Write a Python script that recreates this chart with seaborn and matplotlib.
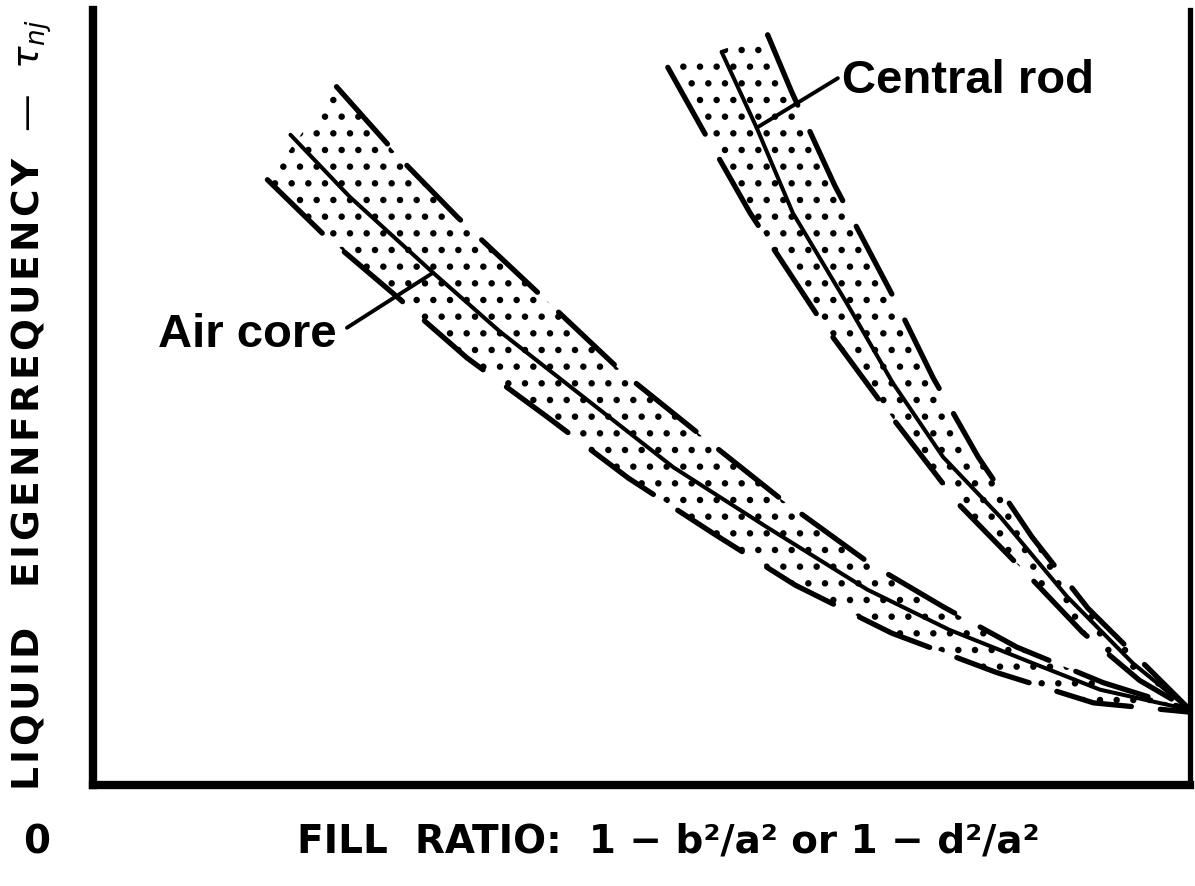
import numpy as np
import matplotlib
matplotlib.use("Agg")
import matplotlib.pyplot as plt
import seaborn as sns

# ---- data (fill ratio on x, normalised eigenfrequency on y) ----
air_upper_x = [0.222, 0.283, 0.332, 0.396, 0.483, 0.556, 0.628, 0.708, 0.775, 0.842, 0.921, 1.0]
air_upper_y = [0.901, 0.804, 0.733, 0.648, 0.532, 0.449, 0.368, 0.286, 0.230, 0.178, 0.132, 0.097]
air_mid_x = [0.180, 0.234, 0.310, 0.371, 0.529, 0.614, 0.706, 0.781, 0.857, 0.918, 1.0]
air_mid_y = [0.839, 0.759, 0.661, 0.585, 0.410, 0.333, 0.252, 0.200, 0.157, 0.123, 0.097]
air_lower_x = [0.159, 0.209, 0.273, 0.341, 0.414, 0.488, 0.565, 0.640, 0.728, 0.824, 0.912, 1.0]
air_lower_y = [0.781, 0.712, 0.635, 0.551, 0.475, 0.396, 0.325, 0.258, 0.196, 0.145, 0.106, 0.094]

rod_upper_x = [0.615, 0.637, 0.676, 0.731, 0.766, 0.807, 0.856, 0.907, 0.966, 1.0]
rod_upper_y = [0.968, 0.894, 0.774, 0.626, 0.525, 0.423, 0.320, 0.228, 0.145, 0.097]
rod_mid_x = [0.573, 0.605, 0.638, 0.687, 0.729, 0.775, 0.827, 0.888, 0.948, 1.0]
rod_mid_y = [0.946, 0.848, 0.738, 0.622, 0.519, 0.423, 0.346, 0.243, 0.157, 0.097]
rod_lower_x = [0.524, 0.556, 0.599, 0.665, 0.728, 0.790, 0.859, 0.902, 0.954, 1.0]
rod_lower_y = [0.926, 0.845, 0.738, 0.596, 0.475, 0.361, 0.261, 0.197, 0.135, 0.097]

labels = ["Air core", "Central rod"]
xlabel = "FILL  RATIO:  1 − b²/a² or 1 − d²/a²"
hair = "\u200a"
ylabel = (hair.join("LIQUID") + "   " + hair.join("EIGENFREQUENCY")
          + "  —  " + r"$\tau_{nj}$")
origin_label = "0"

sns.set_theme(style="white")
plt.rcParams["font.family"] = ["DejaVu Sans"]
plt.rcParams["text.color"] = "black"
plt.rcParams["hatch.linewidth"] = 2.2

fig = plt.figure(figsize=(11.95, 8.86), dpi=100)
ax = fig.add_axes([93 / 1195, 101 / 886, 1097 / 1195, 775 / 886])
ax.set_xlim(0, 1)
ax.set_ylim(0, 1)

dash = (0, (14.5, 5.5))

for ux, uy, mx, my, lx, ly in [
    (air_upper_x, air_upper_y, air_mid_x, air_mid_y, air_lower_x, air_lower_y),
    (rod_upper_x, rod_upper_y, rod_mid_x, rod_mid_y, rod_lower_x, rod_lower_y),
]:
    ax.fill(np.concatenate([ux, lx[::-1]]), np.concatenate([uy, ly[::-1]]),
            facecolor="none", edgecolor="black", hatch=".", linewidth=0)
    for xs, ys in [(ux, uy), (lx, ly)]:
        sns.lineplot(x=xs, y=ys, sort=False, estimator=None, color="black",
                     linewidth=3.8, linestyle=dash, dash_capstyle="round", ax=ax)
    sns.lineplot(x=mx, y=my, sort=False, estimator=None, color="black",
                 linewidth=2.9, solid_capstyle="round", ax=ax)

# labels with leader lines
ax.annotate("", xy=(air_mid_x[2], air_mid_y[2]), xytext=(0.2315, 0.590),
            arrowprops=dict(arrowstyle="-", color="black", lw=2.8, shrinkA=0, shrinkB=0))
ax.text(0.2224, 0.565, labels[0], ha="right", va="baseline", fontsize=34,
        fontweight="bold", family="Liberation Sans", color="black")
ax.annotate("", xy=(rod_mid_x[1], rod_mid_y[1]), xytext=(0.679, 0.912),
            arrowprops=dict(arrowstyle="-", color="black", lw=2.8, shrinkA=0, shrinkB=0))
ax.text(0.683, 0.893, labels[1], ha="left", va="baseline", fontsize=34,
        fontweight="bold", family="Liberation Sans", color="black")

# spines
ax.spines["top"].set_visible(False)
for side, lw in [("left", 6.0), ("bottom", 6.0), ("right", 3.8)]:
    ax.spines[side].set_linewidth(lw)
    ax.spines[side].set_color("black")
ax.set_xticks([])
ax.set_yticks([])

fig.text(32 / 1195, 1 - 405 / 886, ylabel, rotation=90, ha="center", va="center",
         fontsize=27, fontweight="bold", color="black")
fig.text(668 / 1195, 1 - 842 / 886, xlabel, ha="center", va="center",
         fontsize=28, fontweight="bold", color="black")
fig.text(37 / 1195, 1 - 842 / 886, origin_label, ha="center", va="center",
         fontsize=28, fontweight="bold", color="black")

fig.savefig("out.png", dpi=100, facecolor="white")
